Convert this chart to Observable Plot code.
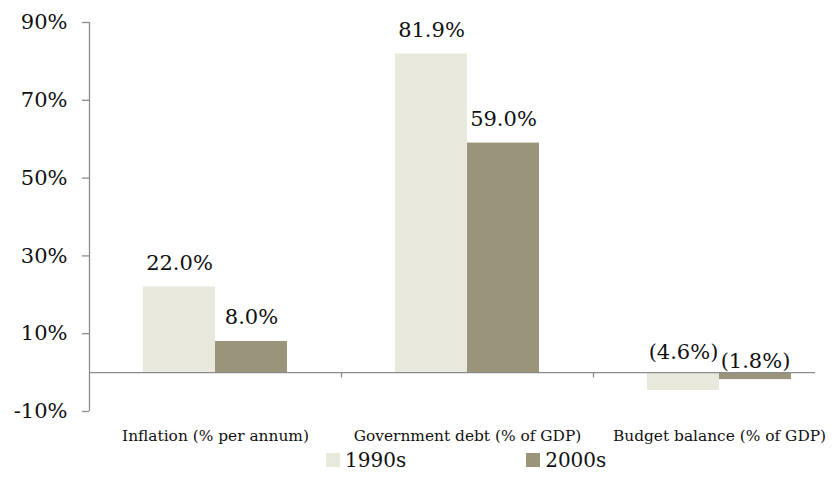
<!DOCTYPE html>
<html><head><meta charset="utf-8">
<script src="https://cdn.jsdelivr.net/npm/d3@7"></script>
<script src="https://cdn.jsdelivr.net/npm/@observablehq/plot@0.6"></script>
<style>
body{margin:0;background:#fff;font-family:"DejaVu Serif",serif;}
#legend{display:flex;position:absolute;top:448px;left:326px;font-size:20px;color:#111;}
.item{display:flex;align-items:center;}
.sw{width:14px;height:14px;margin-right:5px;display:inline-block;}
</style></head>
<body>
<div id="chart"></div>
<div id="legend"></div>
<script>
const categories = ["Inflation (% per annum)", "Government debt (% of GDP)", "Budget balance (% of GDP)"];
const series = ["1990s", "2000s"];
const values1990s = [22.0, 81.9, -4.6];
const values2000s = [8.0, 59.0, -1.8];
const labels1990s = ["22.0%", "81.9%", "(4.6%)"];
const labels2000s = ["8.0%", "59.0%", "(1.8%)"];
const yTicks = [-10, 10, 30, 50, 70, 90];
const colors = ["#E8E8DC", "#9A947B"];

const data = [];
categories.forEach((c, i) => {
  data.push({category: c, series: series[0], value: values1990s[i], label: labels1990s[i]});
  data.push({category: c, series: series[1], value: values2000s[i], label: labels2000s[i]});
});
const d90 = data.filter(d => d.series === "1990s");
const d00 = data.filter(d => d.series === "2000s");
const pos90 = d90.filter(d => d.value >= 0), neg90 = d90.filter(d => d.value < 0);
const pos00 = d00.filter(d => d.value >= 0), neg00 = d00.filter(d => d.value < 0);

const gray = "#8c8c8c";
const chart = Plot.plot({
  width: 835,
  height: 450,
  marginTop: 22,
  marginBottom: 39,
  marginLeft: 89,
  style: {fontFamily: "DejaVu Serif, serif", color: "#111", background: "#fff"},
  x: {domain: categories, range: [89, 845], padding: 0, label: null},
  y: {domain: [-10, 90], label: null},
  color: {domain: series, range: colors},
  marks: [
    Plot.barY(d90, {x: "category", y: "value", fill: "series", insetLeft: 54, insetRight: 126}),
    Plot.barY(d00, {x: "category", y: "value", fill: "series", insetLeft: 126, insetRight: 54}),
    Plot.ruleY([0], {stroke: gray, strokeWidth: 1.3}),
    Plot.ruleX(categories.slice(1), {x: d => d, y1: 0, y2: -1.4, dx: -126, stroke: gray, strokeWidth: 1.3}),
    Plot.text(pos90, {x: "category", y: "value", text: "label", dx: -36, dy: -24, fontSize: 21, fill: "#111"}),
    Plot.text(pos00, {x: "category", y: "value", text: "label", dx: 36, dy: -24, fontSize: 21, fill: "#111"}),
    Plot.text(neg90, {x: "category", y: 0, text: "label", dx: -36, dy: -20, fontSize: 21, fill: "#111"}),
    Plot.text(neg00, {x: "category", y: 0, text: "label", dx: 36, dy: -11, fontSize: 21, fill: "#111"}),
    Plot.axisY({ticks: yTicks, tickFormat: d => d + "%", tickSize: 7, tickPadding: 15, fontSize: 21, stroke: gray, strokeWidth: 1.3}),
    Plot.ruleX([0], {x: () => categories[0], dx: -126, y1: -10, y2: 90, stroke: gray, strokeWidth: 1.3}),
    Plot.axisX({tickSize: 0, tickPadding: 19, fontSize: 15.4})
  ]
});
document.getElementById("chart").appendChild(chart);

const legend = document.getElementById("legend");
series.forEach((s, i) => {
  const it = document.createElement("div");
  it.className = "item";
  it.style.marginRight = i === 0 ? "120px" : "0";
  const sw = document.createElement("span");
  sw.className = "sw";
  sw.style.background = colors[i];
  it.appendChild(sw);
  it.appendChild(document.createTextNode(s));
  legend.appendChild(it);
});
</script>
</body></html>
